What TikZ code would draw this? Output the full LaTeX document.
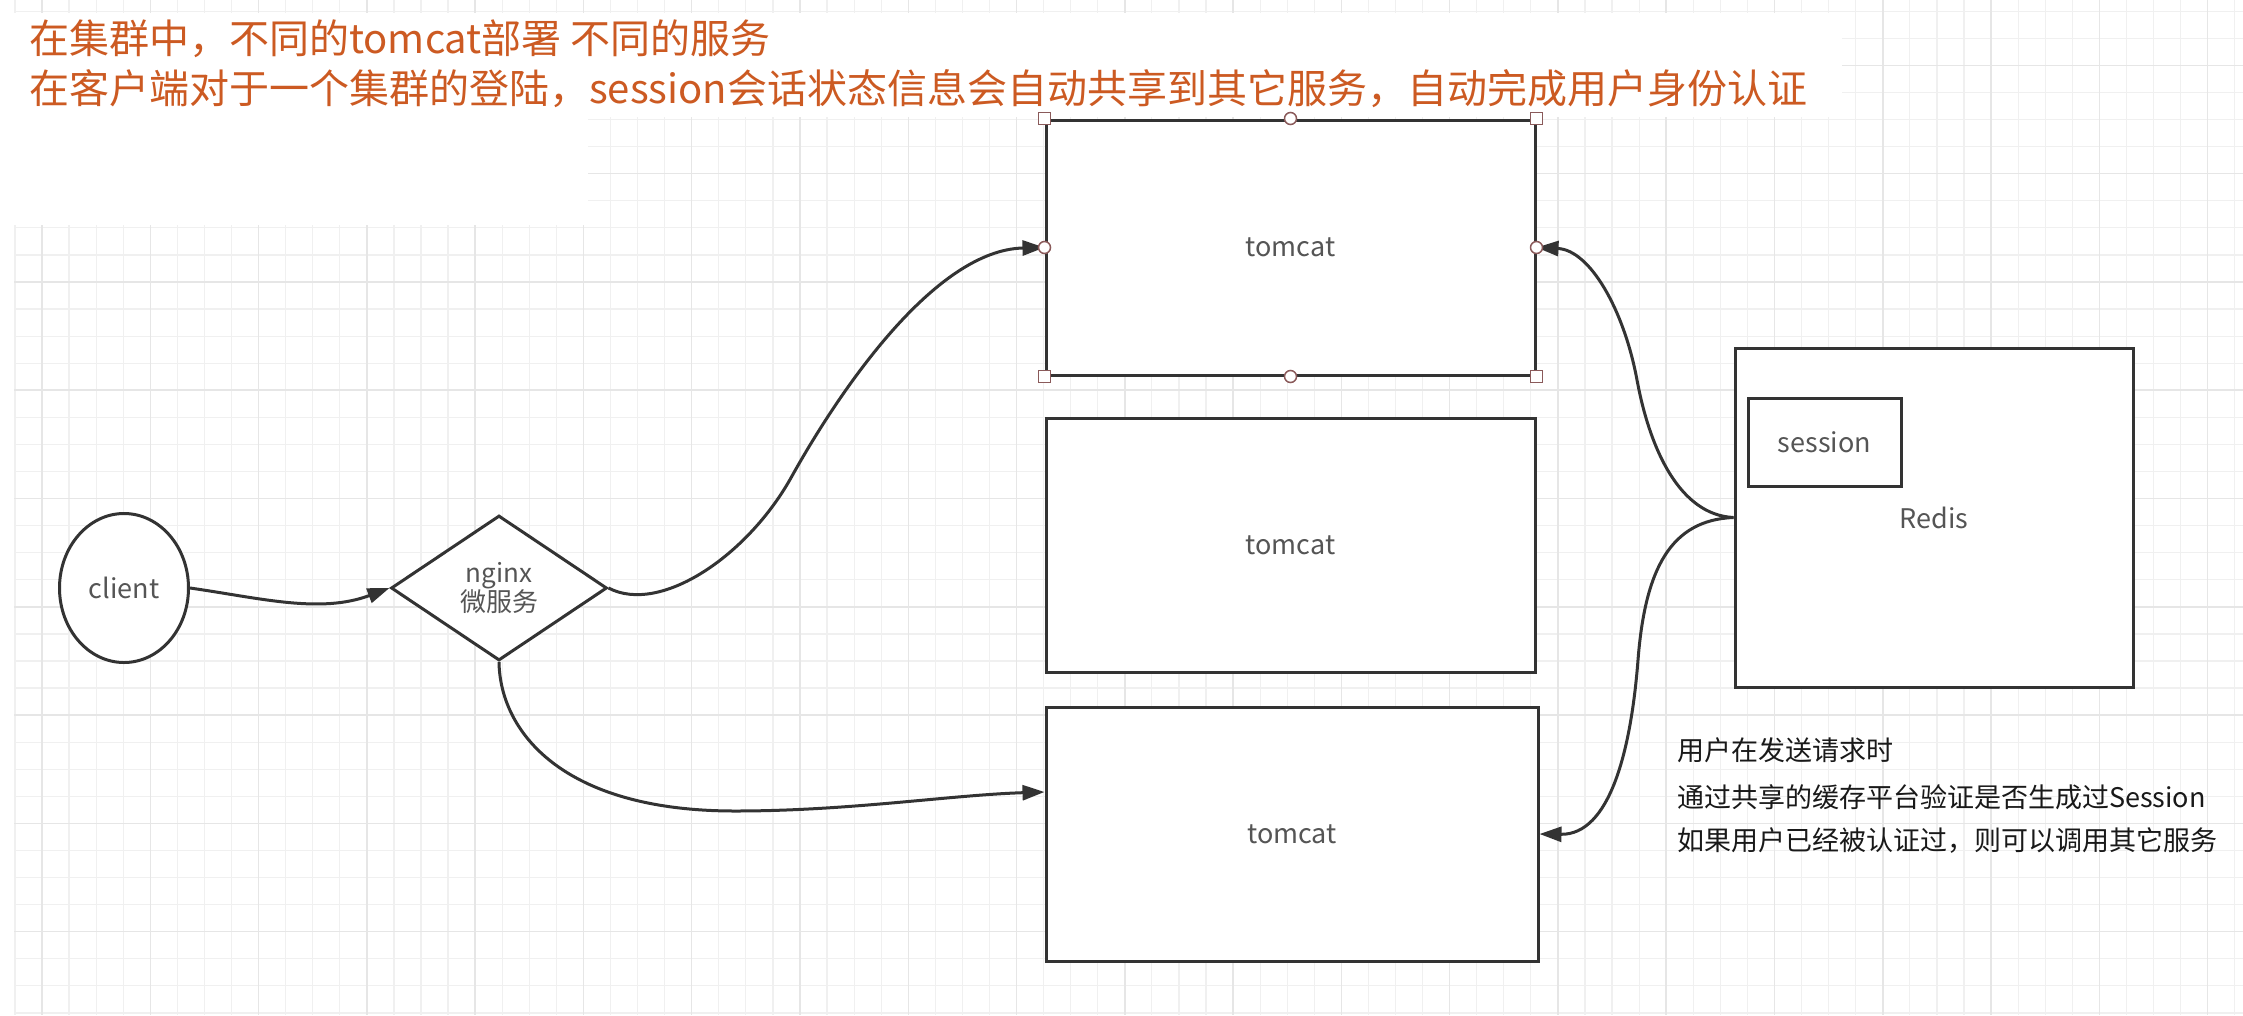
\documentclass[tikz,border=0pt]{standalone}
\usepackage{fontspec}
\setmainfont{Noto Sans CJK SC}
\usetikzlibrary{shapes.geometric,arrows.meta,calc}
\definecolor{titlec}{HTML}{CC5A22}
\definecolor{linec}{HTML}{333333}
\definecolor{labelc}{HTML}{555555}
\definecolor{handlec}{HTML}{8A5A5A}
\definecolor{gridminor}{HTML}{F0F0F0}
\definecolor{gridmajor}{HTML}{E6E6E6}
\begin{document}
\begin{tikzpicture}[x=1pt,y=-1pt,
  box/.style={draw=linec,line width=3pt,fill=white,rectangle,inner sep=0pt,
    font=\fontsize{27}{32}\selectfont,text=labelc},
  conn/.style={draw=linec,line width=3pt,-{Triangle[length=22pt,width=15pt]}},
  titletext/.style={anchor=west,inner sep=0pt,text=titlec,font=\fontsize{40}{46}\selectfont},
  notetext/.style={anchor=west,inner sep=0pt,text=black!90,font=\fontsize{27}{32}\selectfont},
  hsq/.style={draw=handlec,fill=white,line width=1.5pt,rectangle,minimum size=12pt,inner sep=0pt},
  hci/.style={draw=handlec,fill=white,line width=1.5pt,circle,minimum size=12pt,inner sep=0pt}
]
\useasboundingbox[fill=white] (0,0) rectangle (2243,1015);
% grid
\begin{scope}
\clip (14,0) rectangle (2243,1015);
\foreach \i in {0,...,83} {\draw[gridminor,line width=1.2pt] ({14.93+27.07*\i},0) -- ++(0,1015);}
\foreach \j in {0,...,37} {\draw[gridminor,line width=1.2pt] (14,{11.3+27.07*\j}) -- ++(2230,0);}
\foreach \i in {0,...,20} {\draw[gridmajor,line width=1.5pt] ({42+108.28*\i},0) -- ++(0,1015);}
\foreach \j in {0,...,9} {\draw[gridmajor,line width=1.5pt] (14,{65.4+108.28*\j}) -- ++(2230,0);}
\end{scope}
\fill[white] (14,13) rectangle (1842,117);
\fill[white] (14,117) rectangle (588,225);

% titles
\node[titletext] (title1) at (29,39) {在集群中，不同的tomcat部署 不同的服务};
\node[titletext] (title2) at (29,89) {在客户端对于一个集群的登陆，session会话状态信息会自动共享到其它服务，自动完成用户身份认证};

% boxes
\node[box,minimum width=489pt,minimum height=255pt] (t1) at (1290.5,247.5) {tomcat};
\node[box,minimum width=489pt,minimum height=254pt] (t2) at (1290.5,545) {tomcat};
\node[box,minimum width=492pt,minimum height=254pt] (t3) at (1292,834) {tomcat};
\node[box,minimum width=398pt,minimum height=339pt] (redis) at (1934,517.5) {Redis};
\node[box,minimum width=153pt,minimum height=88pt] (session) at (1824.5,442) {session};
\node[box,ellipse,minimum width=129pt,minimum height=149pt] (client) at (124,588) {client};
\node[box,diamond,minimum width=216pt,minimum height=145pt,align=center,
  font=\fontsize{26}{27}\selectfont] (nginx) at (499,588) {nginx\\微服务};

% notes
\node[notetext] (note1) at (1677,750) {用户在发送请求时};
\node[notetext] (note2) at (1677,797) {通过共享的缓存平台验证是否生成过Session};
\node[notetext] (note3) at (1677,840) {如果用户已经被认证过，则可以调用其它服务};

% connectors
\draw[conn] (client.east) .. controls (260,598) and (320,614) .. (nginx.west);
\draw[conn] (nginx.east) .. controls (660,615) and (748,556) .. (792,476)
  .. controls (840,390) and (935,250) .. (t1.west);
\draw[conn] (nginx.south) .. controls (500,730) and (560,811) .. (735,811)
  .. controls (850,811) and (950,795) .. ($(t3.west)+(0,-42)$);
\draw[conn] (redis.west) .. controls (1680,515) and (1650,450) .. (1637,380)
  .. controls (1624,310) and (1590,250) .. (t1.east);
\draw[conn] (redis.west) .. controls (1670,520) and (1645,570) .. (1638,660)
  .. controls (1631,750) and (1610,835) .. (t3.east);

% selection handles on the top tomcat
\foreach \p/\n in {north west/a,north east/b,south west/c,south east/d}
  \node[hsq] (hs\n) at (t1.\p) {};
\foreach \p/\n in {north/a,south/b,west/c,east/d}
  \node[hci] (hc\n) at (t1.\p) {};
\end{tikzpicture}
\end{document}
